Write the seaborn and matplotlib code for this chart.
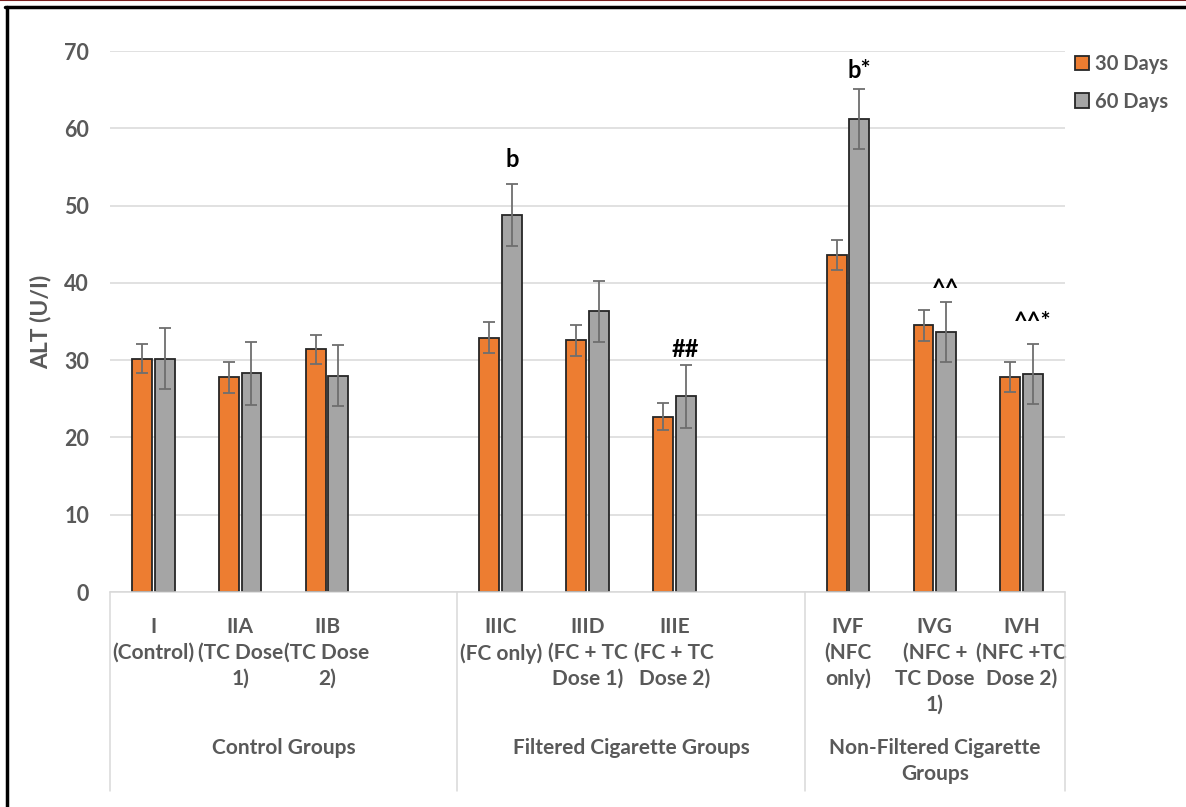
import numpy as np
import pandas as pd
import matplotlib.pyplot as plt
import matplotlib.transforms as mtransforms
from matplotlib.lines import Line2D
from matplotlib.patches import Patch
import seaborn as sns

# group codes and their wrapped axis labels
groups = ["I", "IIA", "IIB", "IIIC", "IIID", "IIIE", "IVF", "IVG", "IVH"]
group_labels = ["I\n(Control)", "IIA\n(TC Dose\n1)", "IIB\n(TC Dose\n2)",
                "IIIC\n(FC only)", "IIID\n(FC + TC\nDose 1)", "IIIE\n(FC + TC\nDose 2)",
                "IVF\n(NFC\nonly)", "IVG\n(NFC +\nTC Dose\n1)", "IVH\n(NFC +TC\nDose 2)"]
sections = ["Control Groups", "Filtered Cigarette Groups", "Non-Filtered Cigarette\nGroups"]
section_members = [["I", "IIA", "IIB"], ["IIIC", "IIID", "IIIE"], ["IVF", "IVG", "IVH"]]

periods = ["30 Days", "60 Days"]
alt_30 = [30.2, 27.8, 31.4, 32.9, 32.6, 22.7, 43.6, 34.5, 27.8]
alt_60 = [30.2, 28.3, 28.0, 48.8, 36.3, 25.3, 61.2, 33.6, 28.2]
err_30 = [1.9, 2.0, 1.9, 2.0, 2.0, 1.8, 1.9, 2.0, 1.9]
err_60 = [3.9, 4.1, 3.9, 4.0, 3.9, 4.1, 3.9, 3.9, 3.9]

# significance marks on the 60-day bars
marks = {"IIIC": "b", "IIIE": "##", "IVF": "b*", "IVG": "^^", "IVH": "^^*"}
mark_pad = {"IIIC": 9, "IIIE": 3, "IVF": 5, "IVG": 1, "IVH": 7}

df = pd.DataFrame({
    "group": groups * 2,
    "period": [periods[0]] * len(groups) + [periods[1]] * len(groups),
    "alt": alt_30 + alt_60,
    "err": err_30 + err_60,
})

# Excel leaves an empty slot at the end of the first two sections
order = ["I", "IIA", "IIB", "_gap1", "IIIC", "IIID", "IIIE", "_gap2", "IVF", "IVG", "IVH"]

sns.set_theme(style="white")
plt.rcParams["font.family"] = ["Lato", "DejaVu Sans"]
text_grey = "#595959"
colors = {"30 Days": "#ED7D31", "60 Days": "#A5A5A5"}

fig = plt.figure(figsize=(11.86, 8.07), dpi=100)
ax = fig.add_axes([0.0927, 0.2664, 0.898 - 0.0927, 0.9368 - 0.2664])

sns.barplot(data=df, x="group", y="alt", hue="period", order=order,
            hue_order=periods, palette=colors, saturation=1, errorbar=None,
            width=0.52, gap=0.12, edgecolor="#262626", linewidth=1.3,
            legend=False, ax=ax)

lookup = df.set_index(["group", "period"])
for cont, period in zip(ax.containers, periods):
    for bar in cont:
        xc = bar.get_x() + bar.get_width() / 2
        g = order[int(round(xc))]
        row = lookup.loc[(g, period)]
        ax.errorbar(xc, row["alt"], yerr=row["err"], fmt="none",
                    ecolor="#6e6e6e", elinewidth=1.3, capsize=4.5, capthick=1.3, zorder=5)
        if period == "60 Days" and g in marks:
            ax.annotate(marks[g], (xc, row["alt"] + row["err"]), xytext=(0, mark_pad[g]),
                        textcoords="offset points", ha="center", va="bottom",
                        fontsize=17, fontweight="bold", color="black")

ax.set_ylim(0, 70)
ax.set_yticks(range(0, 71, 10))
ax.set_xlim(-0.5, len(order) - 0.5)
ax.yaxis.grid(True, color="#d9d9d9", linewidth=1.1)
ax.set_axisbelow(True)
for s in ["left", "right", "top"]:
    ax.spines[s].set_visible(False)
ax.spines["bottom"].set_color("#d9d9d9")
ax.spines["bottom"].set_linewidth(1.1)

ax.set_xticks([order.index(g) for g in groups])
ax.set_xticklabels(group_labels)
ax.tick_params(axis="x", length=0, pad=18, labelsize=15, labelcolor=text_grey)
ax.tick_params(axis="y", length=0, pad=15, labelsize=15.5, labelcolor=text_grey)
for lbl in ax.get_xticklabels():
    lbl.set_fontweight("bold")
    lbl.set_linespacing(1.36)
for lbl in ax.get_yticklabels():
    lbl.set_fontweight("bold")

ax.set_xlabel("")
ax.set_ylabel("ALT (U/I)", fontsize=16.5, fontweight="bold", color=text_grey, labelpad=9)

# multi-level category axis: section separators and section names
trans = mtransforms.blended_transform_factory(ax.transData, ax.transAxes)
bounds = [-0.5, 3.5, 7.5, len(order) - 0.5]
for b in bounds:
    ax.add_line(Line2D([b, b], [0, -0.368], transform=trans, color="#d9d9d9",
                       linewidth=1.1, clip_on=False))
for name, members in zip(sections, section_members):
    i0 = order.index(members[0])
    lo = max(b for b in bounds if b < i0)
    hi = min(b for b in bounds if b > i0)
    ax.text((lo + hi) / 2, -0.270, name, transform=trans, ha="center", va="top",
            fontsize=15, fontweight="bold", color=text_grey, linespacing=1.36)

handles = [Patch(facecolor=colors[p], edgecolor="#262626", linewidth=1.3) for p in periods]
leg = ax.legend(handles, periods, loc="upper left", bbox_to_anchor=(0.998, 1.016),
                frameon=False, handlelength=0.7, handleheight=0.7, handletextpad=0.3,
                labelspacing=0.85, borderaxespad=0.2, fontsize=14.5)
for t in leg.get_texts():
    t.set_color(text_grey)
    t.set_fontweight("bold")

# picture frame from the source figure
fig.add_artist(Line2D([0, 1], [0.9995, 0.9995], transform=fig.transFigure, color="#7a1f1f", linewidth=1.5))
fig.add_artist(Line2D([0.004, 1], [0.991, 0.991], transform=fig.transFigure, color="black", linewidth=2.5))
fig.add_artist(Line2D([0.0055, 0.0055], [0, 0.991], transform=fig.transFigure, color="black", linewidth=2.5))

fig.savefig("out.png", dpi=100)
